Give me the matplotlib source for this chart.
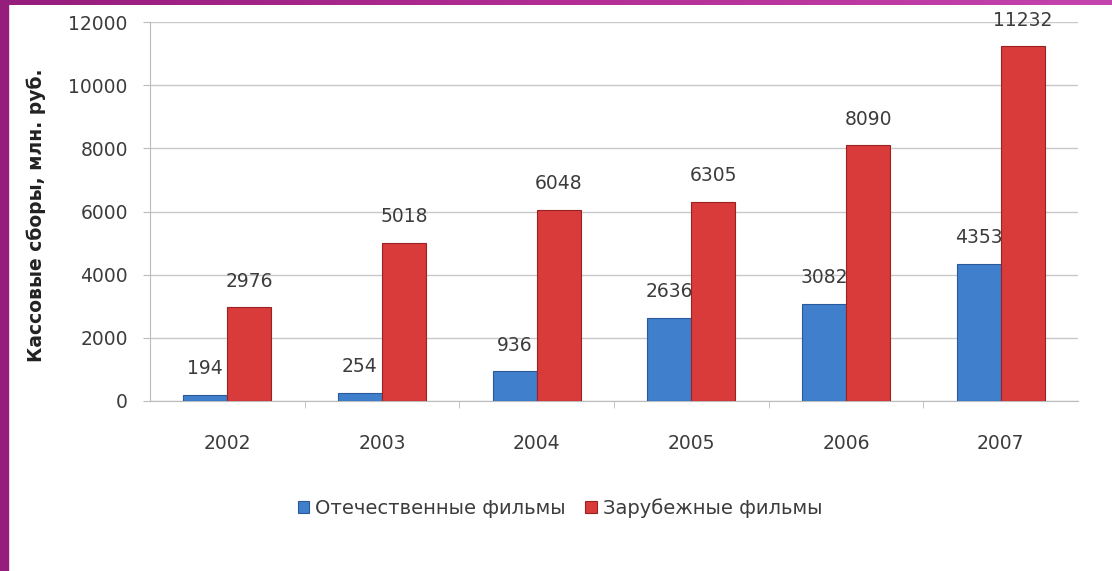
import numpy as np
import matplotlib.pyplot as plt
from matplotlib.patches import Rectangle
from matplotlib.colors import LinearSegmentedColormap

years = ['2002', '2003', '2004', '2005', '2006', '2007']
domestic = [194, 254, 936, 2636, 3082, 4353]
foreign = [2976, 5018, 6048, 6305, 8090, 11232]
series_names = ['Отечественные фильмы', 'Зарубежные фильмы']
y_label = 'Кассовые сборы, млн. руб.'

plt.rcParams['font.family'] = ['DejaVu Sans']

fig = plt.figure(figsize=(11.12, 5.71), dpi=100)
fig.patch.set_facecolor('white')

# purple frame: left strip and gradient top strip
fig.add_artist(Rectangle((0, 0), 8 / 1112, 1, transform=fig.transFigure,
                         color='#951d7c', zorder=5))
top = fig.add_axes([0, 1 - 5 / 571, 1, 5 / 571])
grad = np.linspace(0, 1, 256).reshape(1, -1)
cmap = LinearSegmentedColormap.from_list('frame', ['#951d7c', '#b22c93', '#c444ad'])
top.imshow(grad, aspect='auto', cmap=cmap)
top.set_axis_off()

ax = fig.add_axes([150 / 1112, 1 - 401 / 571, 928 / 1112, 379 / 571])
x = np.arange(len(years))
w = 0.285

b1 = ax.bar(x - w / 2, domestic, w, color='#3f7fcc', edgecolor='#2a5a99',
            linewidth=0.8, label=series_names[0], zorder=3)
b2 = ax.bar(x + w / 2, foreign, w, color='#d93a3a', edgecolor='#9c2222',
            linewidth=0.8, label=series_names[1], zorder=4)

# value labels, about 25 px above the bar top (red bars cover blue labels)
for xi, v in zip(x, domestic):
    ax.annotate(str(v), (xi - w / 2, v), xytext=(0, 26), textcoords='offset pixels',
                ha='center', va='center', fontsize=13.5, color='#3c3c3c', zorder=3.5)
for xi, v in zip(x, foreign):
    ax.annotate(str(v), (xi + w / 2, v), xytext=(0, 26), textcoords='offset pixels',
                ha='center', va='center', fontsize=13.5, color='#3c3c3c', zorder=5,
                annotation_clip=False)

ax.set_xlim(-0.5, len(years) - 0.5)
ax.set_ylim(0, 12000)
ax.set_yticks(np.arange(0, 12001, 2000))
ax.set_xticks(x)
ax.set_xticklabels(years)
ax.set_xticks(np.arange(0.5, len(years) - 0.5, 1), minor=True)
ax.tick_params(axis='x', which='major', length=0, pad=24, labelsize=13.5,
               labelcolor='#3c3c3c')
ax.tick_params(axis='x', which='minor', length=5, color='#bbbbbb', direction='out')
ax.tick_params(axis='y', length=5, color='#bbbbbb', labelsize=13.5,
               labelcolor='#3c3c3c', pad=11)
ax.grid(axis='y', color='#c8c8c8', linewidth=1, zorder=0)
for s in ['top', 'right']:
    ax.spines[s].set_visible(False)
ax.spines['left'].set_color('#bbbbbb')
ax.spines['bottom'].set_color('#bbbbbb')

ax.set_ylabel(y_label, fontsize=13.5, fontweight='bold', color='#222222')
ax.yaxis.set_label_coords(-0.112, 0.49)

fig.legend(handles=[b1, b2], loc='center', bbox_to_anchor=(560 / 1112, 1 - 508 / 571),
           ncol=2, frameon=False, fontsize=14, handlelength=0.6, handleheight=0.6,
           handletextpad=0.3, columnspacing=1.0, labelcolor='#3c3c3c')

fig.savefig('out.png', dpi=100)
